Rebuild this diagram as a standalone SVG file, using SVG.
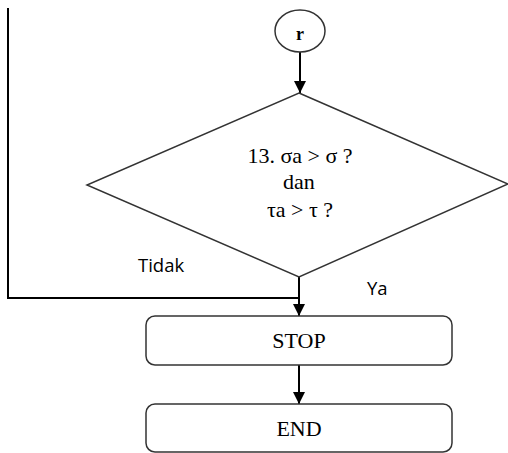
<svg xmlns="http://www.w3.org/2000/svg" width="508" height="453" viewBox="0 0 508 453">
<style>
.shape{fill:#fff;stroke:#333;stroke-width:1.5}
.conn{fill:none;stroke:#000;stroke-width:2}
.serif{font-family:"Liberation Serif","Times New Roman",serif;font-size:22px;fill:#000;text-anchor:middle}
.sans{font-family:"Open Sans","Noto Sans",sans-serif;font-size:18.5px;fill:#000}
</style>
<defs>
<marker id="arr" markerWidth="12" markerHeight="12" refX="10" refY="5" orient="auto" markerUnits="userSpaceOnUse" viewBox="0 0 10 10">
<path d="M0,0 L10,5 L0,10 z" fill="#000"/>
</marker>
</defs>
<rect width="508" height="453" fill="#fff"/>
<g id="connectors">
<line class="conn" x1="300" y1="52" x2="300" y2="93" marker-end="url(#arr)"/>
<polyline class="conn" points="8,8 8,298 299,298" stroke-width="1.5" stroke="#222"/>
<line class="conn" x1="299" y1="277" x2="299" y2="316" marker-end="url(#arr)"/>
<line class="conn" x1="299" y1="365" x2="299" y2="404" marker-end="url(#arr)"/>
</g>
<g id="node-r">
<ellipse class="shape" cx="300" cy="31" rx="25" ry="21"/>
<text x="300" y="40" class="serif" font-weight="bold" style="font-size:18px">r</text>
</g>
<g id="node-decision">
<polygon class="shape" points="299,93 508,184 299,277 87,185"/>
<text class="serif" x="300" y="163">13. σa &gt; σ ?</text>
<text class="serif" x="299" y="189">dan</text>
<text class="serif" x="300" y="217">τa &gt; τ ?</text>
</g>
<g id="labels">
<text class="sans" x="138" y="272">Tidak</text>
<text class="sans" x="367" y="295">Ya</text>
</g>
<g id="node-stop">
<rect class="shape" x="146" y="316" width="306" height="49" rx="9"/>
<text class="serif" x="299" y="348">STOP</text>
</g>
<g id="node-end">
<rect class="shape" x="146" y="404" width="306" height="48" rx="9"/>
<text class="serif" x="299" y="436">END</text>
</g>
</svg>
